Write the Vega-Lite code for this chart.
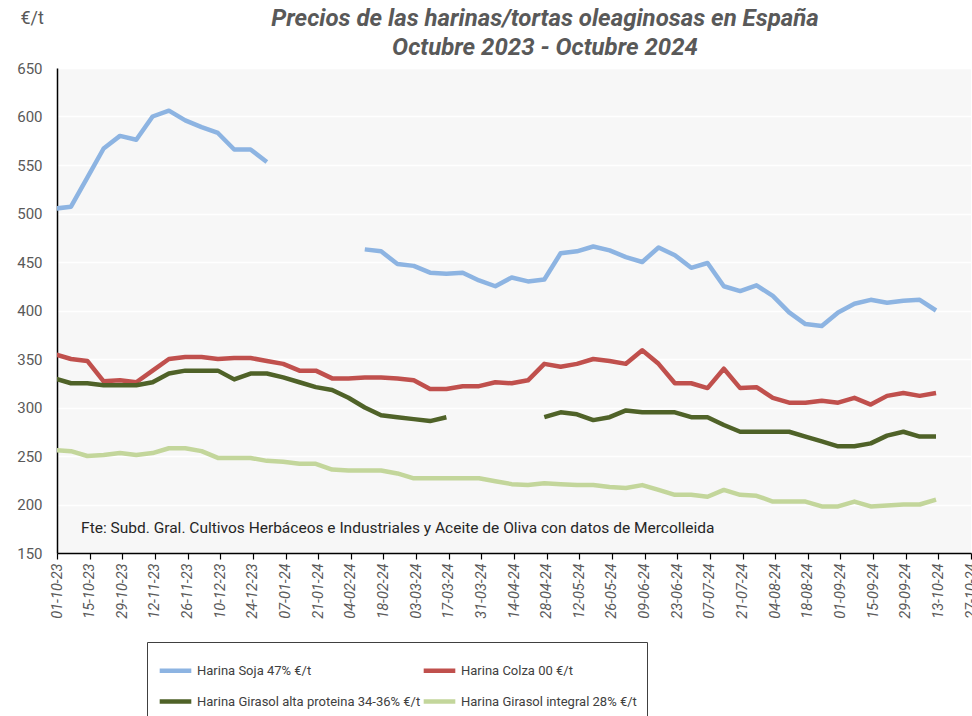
{
  "$schema": "https://vega.github.io/schema/vega-lite/v6.json",
  "autosize": {"type": "none"},
  "padding": {"left": 57, "top": 68, "right": 1, "bottom": 163},
  "width": 914,
  "height": 485,
  "background": "white",
  "config": {
    "font": "Liberation Sans Narrow, Roboto, sans-serif",
    "view": {"fill": "#f7f7f7", "stroke": null},
    "axisX": {
      "labelAngle": -90,
      "labelAlign": "right",
      "labelBaseline": "middle",
      "labelFontSize": 14.5,
      "labelFontStyle": "italic",
      "labelColor": "#595959",
      "labelPadding": 4,
      "labelOverlap": false,
      "labelFlush": false,
      "labelBound": false,
      "tickColor": "#000000",
      "tickSize": 6,
      "tickWidth": 1.2,
      "domainColor": "#000000",
      "domainWidth": 1.5,
      "grid": false
    },
    "axisY": {
      "titleAngle": 0,
      "titleX": -37,
      "titleY": -50,
      "titleAlign": "left",
      "titleBaseline": "middle",
      "titleFontSize": 18,
      "titleFontWeight": "normal",
      "titleColor": "#595959",
      "labelFontSize": 15,
      "labelColor": "#595959",
      "labelPadding": 15,
      "ticks": false,
      "domainColor": "#000000",
      "domainWidth": 1.5,
      "gridColor": "#ffffff",
      "gridWidth": 1.5
    }
  },
  "title": {
    "text": ["Precios de las harinas/tortas oleaginosas en España", "Octubre 2023 - Octubre 2024"],
    "anchor": "middle",
    "dx": 31,
    "dy": 51,
    "offset": 0,
    "fontSize": 24,
    "fontStyle": "italic",
    "fontWeight": "bold",
    "color": "#595959",
    "lineHeight": 29,
    "font": "Liberation Sans Narrow, Roboto, sans-serif"
  },
  "data": {
    "values": [
      {"fecha": "2023-09-30", "s": 505, "c": 355, "a": 330, "i": 256},
      {"fecha": "2023-10-07", "s": 507, "c": 350, "a": 325, "i": 255},
      {"fecha": "2023-10-14", "s": 537, "c": 348, "a": 325, "i": 250},
      {"fecha": "2023-10-21", "s": 567, "c": 327, "a": 323, "i": 251},
      {"fecha": "2023-10-28", "s": 580, "c": 328, "a": 323, "i": 253},
      {"fecha": "2023-11-04", "s": 576, "c": 326, "a": 323, "i": 251},
      {"fecha": "2023-11-11", "s": 600, "c": 338, "a": 326, "i": 253},
      {"fecha": "2023-11-18", "s": 606, "c": 350, "a": 335, "i": 258},
      {"fecha": "2023-11-25", "s": 596, "c": 352, "a": 338, "i": 258},
      {"fecha": "2023-12-02", "s": 589, "c": 352, "a": 338, "i": 255},
      {"fecha": "2023-12-09", "s": 583, "c": 350, "a": 338, "i": 248},
      {"fecha": "2023-12-16", "s": 566, "c": 351, "a": 329, "i": 248},
      {"fecha": "2023-12-23", "s": 566, "c": 351, "a": 335, "i": 248},
      {"fecha": "2023-12-30", "s": 553, "c": 348, "a": 335, "i": 245},
      {"fecha": "2024-01-06", "s": null, "c": 345, "a": 331, "i": 244},
      {"fecha": "2024-01-13", "s": null, "c": 338, "a": 326, "i": 242},
      {"fecha": "2024-01-20", "s": null, "c": 338, "a": 321, "i": 242},
      {"fecha": "2024-01-27", "s": null, "c": 330, "a": 318, "i": 236},
      {"fecha": "2024-02-03", "s": null, "c": 330, "a": 310, "i": 235},
      {"fecha": "2024-02-10", "s": 463, "c": 331, "a": 300, "i": 235},
      {"fecha": "2024-02-17", "s": 461, "c": 331, "a": 292, "i": 235},
      {"fecha": "2024-02-24", "s": 448, "c": 330, "a": 290, "i": 232},
      {"fecha": "2024-03-02", "s": 446, "c": 328, "a": 288, "i": 227},
      {"fecha": "2024-03-09", "s": 439, "c": 319, "a": 286, "i": 227},
      {"fecha": "2024-03-16", "s": 438, "c": 319, "a": 290, "i": 227},
      {"fecha": "2024-03-23", "s": 439, "c": 322, "a": null, "i": 227},
      {"fecha": "2024-03-30", "s": 431, "c": 322, "a": null, "i": 227},
      {"fecha": "2024-04-06", "s": 425, "c": 326, "a": null, "i": 224},
      {"fecha": "2024-04-13", "s": 434, "c": 325, "a": null, "i": 221},
      {"fecha": "2024-04-20", "s": 430, "c": 328, "a": null, "i": 220},
      {"fecha": "2024-04-27", "s": 432, "c": 345, "a": 290, "i": 222},
      {"fecha": "2024-05-04", "s": 459, "c": 342, "a": 295, "i": 221},
      {"fecha": "2024-05-11", "s": 461, "c": 345, "a": 293, "i": 220},
      {"fecha": "2024-05-18", "s": 466, "c": 350, "a": 287, "i": 220},
      {"fecha": "2024-05-25", "s": 462, "c": 348, "a": 290, "i": 218},
      {"fecha": "2024-06-01", "s": 455, "c": 345, "a": 297, "i": 217},
      {"fecha": "2024-06-08", "s": 450, "c": 359, "a": 295, "i": 220},
      {"fecha": "2024-06-15", "s": 465, "c": 345, "a": 295, "i": 215},
      {"fecha": "2024-06-22", "s": 457, "c": 325, "a": 295, "i": 210},
      {"fecha": "2024-06-29", "s": 444, "c": 325, "a": 290, "i": 210},
      {"fecha": "2024-07-06", "s": 449, "c": 320, "a": 290, "i": 208},
      {"fecha": "2024-07-13", "s": 425, "c": 340, "a": 282, "i": 215},
      {"fecha": "2024-07-20", "s": 420, "c": 320, "a": 275, "i": 210},
      {"fecha": "2024-07-27", "s": 426, "c": 321, "a": 275, "i": 209},
      {"fecha": "2024-08-03", "s": 415, "c": 310, "a": 275, "i": 203},
      {"fecha": "2024-08-10", "s": 398, "c": 305, "a": 275, "i": 203},
      {"fecha": "2024-08-17", "s": 386, "c": 305, "a": 270, "i": 203},
      {"fecha": "2024-08-24", "s": 384, "c": 307, "a": 265, "i": 198},
      {"fecha": "2024-08-31", "s": 398, "c": 305, "a": 260, "i": 198},
      {"fecha": "2024-09-07", "s": 407, "c": 310, "a": 260, "i": 203},
      {"fecha": "2024-09-14", "s": 411, "c": 303, "a": 263, "i": 198},
      {"fecha": "2024-09-21", "s": 408, "c": 312, "a": 271, "i": 199},
      {"fecha": "2024-09-28", "s": 410, "c": 315, "a": 275, "i": 200},
      {"fecha": "2024-10-05", "s": 411, "c": 312, "a": 270, "i": 200},
      {"fecha": "2024-10-12", "s": 400, "c": 315, "a": 270, "i": 205}
    ]
  },
  "layer": [
    {
      "transform": [{"fold": ["s", "c", "a", "i"], "as": ["serie", "precio"]}],
      "mark": {"type": "line", "strokeWidth": 4.5, "clip": true, "strokeJoin": "round", "strokeCap": "butt", "invalid": "break-paths-filter-domains"},
      "encoding": {
        "x": {
          "field": "fecha",
          "type": "temporal",
          "scale": {"type": "utc", "domain": [1696118400000, 1729987200000]},
          "axis": {
            "title": null,
            "labelExpr": "utcFormat(datum.value, '%d-%m-%y')",
            "values": [1696118400000, 1697328000000, 1698537600000, 1699747200000, 1700956800000, 1702166400000, 1703376000000, 1704585600000, 1705795200000, 1707004800000, 1708214400000, 1709424000000, 1710633600000, 1711843200000, 1713052800000, 1714262400000, 1715472000000, 1716681600000, 1717891200000, 1719100800000, 1720310400000, 1721520000000, 1722729600000, 1723939200000, 1725148800000, 1726358400000, 1727568000000, 1728777600000, 1729987200000]
          }
        },
        "y": {
          "field": "precio",
          "type": "quantitative",
          "scale": {"domain": [150, 650], "nice": false, "zero": false},
          "axis": {
            "title": "€/t",
            "values": [150, 200, 250, 300, 350, 400, 450, 500, 550, 600, 650]
          }
        },
        "color": {
          "field": "serie",
          "type": "nominal",
          "scale": {"domain": ["s", "c", "a", "i"], "range": ["#8db4e2", "#c0504d", "#4f6228", "#c3d69b"]},
          "legend": {
            "title": null,
            "orient": "none",
            "legendX": 90,
            "legendY": 574,
            "columns": 2,
            "direction": "horizontal",
            "columnPadding": -48,
            "rowPadding": 3,
            "padding": 10,
            "strokeColor": "#404040",
            "symbolType": "stroke",
            "symbolSize": 1000,
            "symbolStrokeWidth": 4.5,
            "labelFontSize": 13,
            "labelColor": "#404040",
            "labelOffset": 3,
            "labelLimit": 400,
            "labelExpr": "datum.value == 's' ? 'Harina Soja  47% €/t' : datum.value == 'c' ? 'Harina Colza 00 €/t' : datum.value == 'a' ? 'Harina Girasol alta proteina 34-36% €/t' : 'Harina Girasol integral 28% €/t'"
          }
        }
      }
    },
    {
      "data": {"values": [{"nota": "Fte: Subd. Gral. Cultivos Herbáceos e Industriales y Aceite de Oliva con datos de Mercolleida"}]},
      "mark": {"type": "text", "align": "left", "baseline": "middle", "fontSize": 15.5, "color": "#262626"},
      "encoding": {
        "x": {
          "datum": 1697011200000,
          "type": "temporal",
          "scale": {"type": "utc", "domain": [1696118400000, 1729987200000]},
          "axis": {
            "title": null,
            "labelExpr": "utcFormat(datum.value, '%d-%m-%y')",
            "values": [1696118400000, 1697328000000, 1698537600000, 1699747200000, 1700956800000, 1702166400000, 1703376000000, 1704585600000, 1705795200000, 1707004800000, 1708214400000, 1709424000000, 1710633600000, 1711843200000, 1713052800000, 1714262400000, 1715472000000, 1716681600000, 1717891200000, 1719100800000, 1720310400000, 1721520000000, 1722729600000, 1723939200000, 1725148800000, 1726358400000, 1727568000000, 1728777600000, 1729987200000]
          }
        },
        "y": {
          "datum": 176,
          "type": "quantitative",
          "scale": {"domain": [150, 650], "nice": false, "zero": false},
          "axis": {
            "title": "€/t",
            "values": [150, 200, 250, 300, 350, 400, 450, 500, 550, 600, 650]
          }
        },
        "text": {"field": "nota", "type": "nominal"}
      }
    }
  ]
}
